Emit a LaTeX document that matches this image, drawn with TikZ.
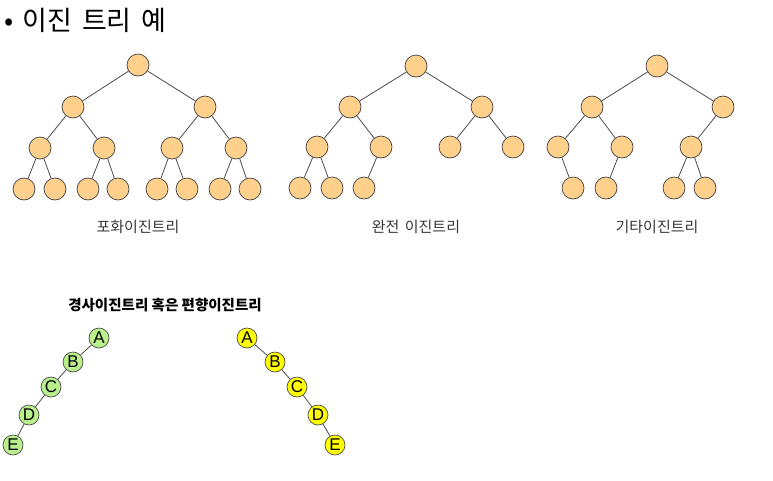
\documentclass[tikz,border=0pt]{standalone}
\usepackage{fontspec}
\setmainfont{Liberation Sans}
\newfontfamily\kr{Noto Sans CJK KR}
\usetikzlibrary{positioning}

\definecolor{peach}{RGB}{255,208,140}
\definecolor{leaf}{RGB}{185,240,140}
\definecolor{lemon}{RGB}{255,255,0}
\definecolor{labelgray}{RGB}{55,55,55}

\tikzset{
  tnode/.style={circle, draw=black!75, fill=peach, minimum size=22pt, inner sep=0pt, line width=0.7pt},
  snode/.style={circle, draw=black!70, minimum size=20pt, inner sep=0pt, line width=0.7pt, font=\fontsize{17}{17}\selectfont},
  edge/.style={draw=black!70, line width=0.8pt},
  treename/.style={font=\kr\fontsize{15}{15}\selectfont, text=labelgray}
}

\begin{document}
\begin{tikzpicture}[x=1pt, y=-1pt]
    \useasboundingbox (0,0) rectangle (773,480);

    % Title
    \node[anchor=west, inner sep=0pt, font=\kr\fontsize{27}{27}\selectfont] (title) at (4,20) {•\hspace{9pt}이진\hspace{4pt} 트리\hspace{4pt} 예};

    % Full binary tree
    \node[tnode] (f1) at (138,65) {};
    \node[tnode] (f2) at (73,107) {};
    \node[tnode] (f3) at (205,107) {};
    \node[tnode] (f4) at (40,148) {};
    \node[tnode] (f5) at (104,148) {};
    \node[tnode] (f6) at (172,148) {};
    \node[tnode] (f7) at (236,148) {};
    \node[tnode] (f8) at (24,189) {};
    \node[tnode] (f9) at (55,189) {};
    \node[tnode] (f10) at (88,189) {};
    \node[tnode] (f11) at (118,189) {};
    \node[tnode] (f12) at (157,189) {};
    \node[tnode] (f13) at (187,189) {};
    \node[tnode] (f14) at (220,189) {};
    \node[tnode] (f15) at (250,189) {};
    \draw[edge] (f1) -- (f2) (f1) -- (f3)
                (f2) -- (f4) (f2) -- (f5) (f3) -- (f6) (f3) -- (f7)
                (f4) -- (f8) (f4) -- (f9) (f5) -- (f10) (f5) -- (f11)
                (f6) -- (f12) (f6) -- (f13) (f7) -- (f14) (f7) -- (f15);
    \node[treename] (fname) at (138,227) {포화이진트리};

    % Complete binary tree
    \node[tnode] (c1) at (416,66) {};
    \node[tnode] (c2) at (350,107) {};
    \node[tnode] (c3) at (482,107) {};
    \node[tnode] (c4) at (317,147) {};
    \node[tnode] (c5) at (381,147) {};
    \node[tnode] (c6) at (450,147) {};
    \node[tnode] (c7) at (513,147) {};
    \node[tnode] (c8) at (300,188) {};
    \node[tnode] (c9) at (332,188) {};
    \node[tnode] (c10) at (364,188) {};
    \draw[edge] (c1) -- (c2) (c1) -- (c3)
                (c2) -- (c4) (c2) -- (c5) (c3) -- (c6) (c3) -- (c7)
                (c4) -- (c8) (c4) -- (c9) (c5) -- (c10);
    \node[treename] (cname) at (416,227) {완전\hspace{2pt} 이진트리};

    % Other binary tree
    \node[tnode] (o1) at (657,66) {};
    \node[tnode] (o2) at (592,107) {};
    \node[tnode] (o3) at (723,107) {};
    \node[tnode] (o4) at (558,147) {};
    \node[tnode] (o5) at (622,147) {};
    \node[tnode] (o6) at (691,147) {};
    \node[tnode] (o9) at (573,188) {};
    \node[tnode] (o10) at (606,188) {};
    \node[tnode] (o12) at (674,188) {};
    \node[tnode] (o13) at (705,188) {};
    \draw[edge] (o1) -- (o2) (o1) -- (o3)
                (o2) -- (o4) (o2) -- (o5) (o3) -- (o6)
                (o4) -- (o9) (o5) -- (o10) (o6) -- (o12) (o6) -- (o13);
    \node[treename] (oname) at (657,227) {기타이진트리};

    % Skewed binary trees
    \node[font=\kr\bfseries\fontsize{14.5}{14.5}\selectfont] (sname) at (165,305) {경사이진트리 혹은 편향이진트리};

    \node[snode, fill=leaf] (la) at (99,338) {A};
    \node[snode, fill=leaf] (lb) at (73,362) {B};
    \node[snode, fill=leaf] (lc) at (51,387) {C};
    \node[snode, fill=leaf] (ld) at (29,415) {D};
    \node[snode, fill=leaf] (le) at (13,445) {E};
    \draw[edge] (la) -- (lb) -- (lc) -- (ld) -- (le);

    \node[snode, fill=lemon] (ra) at (247,338) {A};
    \node[snode, fill=lemon] (rb) at (275,362) {B};
    \node[snode, fill=lemon] (rc) at (297,387) {C};
    \node[snode, fill=lemon] (rd) at (318,415) {D};
    \node[snode, fill=lemon] (re) at (335,445) {E};
    \draw[edge] (ra) -- (rb) -- (rc) -- (rd) -- (re);
\end{tikzpicture}
\end{document}
